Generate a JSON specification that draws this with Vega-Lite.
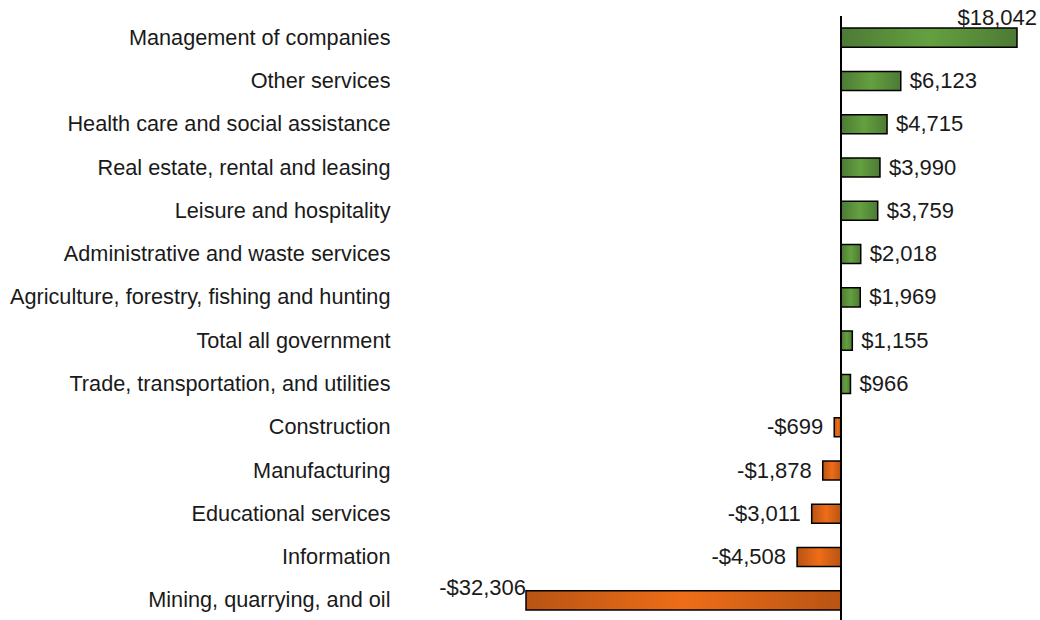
{
  "$schema": "https://vega.github.io/schema/vega-lite/v6.json",
  "autosize": "none",
  "width": 491,
  "height": 606,
  "padding": {"left": 526, "top": 16, "right": 23, "bottom": 0},
  "background": "white",
  "config": {"view": {"stroke": null}, "font": "Liberation Sans"},
  "data": {"values": [
    {"industry": "Management of companies", "value": 18042},
    {"industry": "Other services", "value": 6123},
    {"industry": "Health care and social assistance", "value": 4715},
    {"industry": "Real estate, rental and leasing", "value": 3990},
    {"industry": "Leisure and hospitality", "value": 3759},
    {"industry": "Administrative and waste services", "value": 2018},
    {"industry": "Agriculture, forestry, fishing and hunting", "value": 1969},
    {"industry": "Total all government", "value": 1155},
    {"industry": "Trade, transportation, and utilities", "value": 966},
    {"industry": "Construction", "value": -699},
    {"industry": "Manufacturing", "value": -1878},
    {"industry": "Educational services", "value": -3011},
    {"industry": "Information", "value": -4508},
    {"industry": "Mining, quarrying, and oil", "value": -32306}
  ]},
  "transform": [
    {"calculate": "(datum.value < 0 ? '-' : '') + '$' + format(abs(datum.value), ',')", "as": "label"}
  ],
  "encoding": {
    "y": {"field": "industry", "type": "nominal", "sort": null,
      "scale": {"paddingInner": 0.56, "paddingOuter": 0.28},
      "axis": {"title": null, "domain": false, "ticks": false, "labelPadding": 136, "labelFontSize": 21.7, "labelColor": "#1a1a1a", "labelFont": "Liberation Sans", "labelLimit": 600}},
    "x": {"field": "value", "type": "quantitative", "scale": {"domain": [-32306, 18042], "nice": false, "zero": true}, "axis": null}
  },
  "layer": [
    {
      "transform": [{"filter": "datum.value >= 0"}],
      "mark": {"type": "bar", "stroke": "black", "strokeWidth": 1.5,
        "fill": {"gradient": "linear", "x1": 0, "y1": 0, "x2": 1, "y2": 0, "stops": [
          {"offset": 0, "color": "#4d7a34"}, {"offset": 0.5, "color": "#64a040"}, {"offset": 1, "color": "#4d7a34"}]}}
    },
    {
      "transform": [{"filter": "datum.value < 0"}],
      "mark": {"type": "bar", "stroke": "black", "strokeWidth": 1.5,
        "fill": {"gradient": "linear", "x1": 0, "y1": 0, "x2": 1, "y2": 0, "stops": [
          {"offset": 0, "color": "#b85413"}, {"offset": 0.5, "color": "#ee6d18"}, {"offset": 1, "color": "#b85413"}]}}
    },
    {
      "mark": {"type": "rule", "color": "black", "strokeWidth": 1.5},
      "encoding": {"x": {"datum": 0}, "y": null}
    },
    {
      "transform": [{"filter": "datum.value >= 0 && datum.value < 10000"}],
      "mark": {"type": "text", "align": "left", "baseline": "middle", "dx": 9, "fontSize": 22, "color": "#1a1a1a"},
      "encoding": {"text": {"field": "label"}}
    },
    {
      "transform": [{"filter": "datum.value < 0 && datum.value > -10000"}],
      "mark": {"type": "text", "align": "right", "baseline": "middle", "dx": -11, "fontSize": 22, "color": "#1a1a1a"},
      "encoding": {"text": {"field": "label"}}
    },
    {
      "transform": [{"filter": "datum.value >= 10000"}],
      "mark": {"type": "text", "align": "right", "baseline": "middle", "dx": 20, "dy": -20, "fontSize": 22, "color": "#1a1a1a"},
      "encoding": {"text": {"field": "label"}}
    },
    {
      "transform": [{"filter": "datum.value <= -10000"}],
      "mark": {"type": "text", "align": "right", "baseline": "middle", "dx": 0, "dy": -12, "fontSize": 22, "color": "#1a1a1a"},
      "encoding": {"text": {"field": "label"}}
    }
  ]
}
